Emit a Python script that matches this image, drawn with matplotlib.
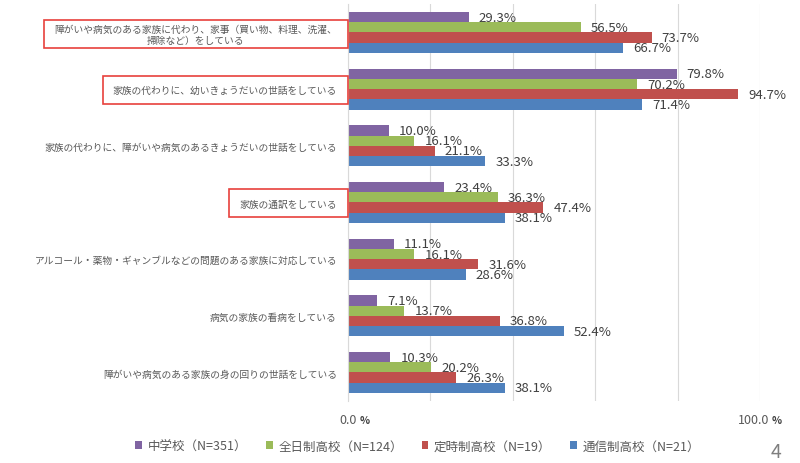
import numpy as np
import matplotlib
matplotlib.use("Agg")
import matplotlib.pyplot as plt
from matplotlib.patches import Rectangle

plt.rcParams['font.family'] = ['Noto Sans CJK JP', 'DejaVu Sans']

categories = [
    "障がいや病気のある家族に代わり、家事（買い物、料理、洗濯、\n掃除など）をしている",
    "家族の代わりに、幼いきょうだいの世話をしている",
    "家族の代わりに、障がいや病気のあるきょうだいの世話をしている",
    "家族の通訳をしている",
    "アルコール・薬物・ギャンブルなどの問題のある家族に対応している",
    "病気の家族の看病をしている",
    "障がいや病気のある家族の身の回りの世話をしている",
]
series_names = ["中学校（N=351）", "全日制高校（N=124）", "定時制高校（N=19）", "通信制高校（N=21）"]
junior_high = [29.3, 79.8, 10.0, 23.4, 11.1, 7.1, 10.3]
fulltime = [56.5, 70.2, 16.1, 36.3, 16.1, 13.7, 20.2]
parttime = [73.7, 94.7, 21.1, 47.4, 31.6, 36.8, 26.3]
correspondence = [66.7, 71.4, 33.3, 38.1, 28.6, 52.4, 38.1]
highlighted = [0, 1, 3]

colors = ['#8064A2', '#9BBB59', '#C0504D', '#4F81BD']
series = [junior_high, fulltime, parttime, correspondence]

fig = plt.figure(figsize=(8, 4.64), dpi=100)
ax = fig.add_axes([0.435, 0.134, 0.515, 0.855])

y = np.arange(len(categories))
h = 0.18
for i, (vals, c, name) in enumerate(zip(series, colors, series_names)):
    pos = y - 1.5 * h + i * h
    ax.barh(pos, vals, height=h, color=c, label=name, zorder=2)
    for p, v in zip(pos, vals):
        ax.annotate(f"{v:.1f}%", (v, p), xytext=(10, 0), textcoords='offset pixels',
                    va='center', ha='left', fontsize=9.5, color='#404040', zorder=3)

ax.set_xlim(0, 100)
ax.set_ylim(len(categories) - 0.5, -0.5)
ax.set_xticks(np.arange(0, 101, 20))
ax.set_xticklabels([])
ax.tick_params(axis='x', length=0)
ax.tick_params(axis='y', length=0, pad=8)
ax.grid(axis='x', color='#D9D9D9', linewidth=0.8, zorder=0)
for s in ['top', 'right', 'bottom']:
    ax.spines[s].set_visible(False)
ax.spines['left'].set_color('#D9D9D9')

ax.set_yticks(y)
ax.set_yticklabels(categories, fontsize=7, color='#595959', multialignment='center', linespacing=1.25)

# x axis end labels
for xv, txt in [(0, "0.0"), (100, "100.0")]:
    ax.annotate(txt, (xv, 0), xycoords=('data', 'axes fraction'), xytext=(9, -19),
                textcoords='offset pixels', ha='right', va='center', fontsize=9, color='#595959')
    ax.annotate("%", (xv, 0), xycoords=('data', 'axes fraction'), xytext=(12, -19),
                textcoords='offset pixels', ha='left', va='center', fontsize=7.5, fontweight='bold', color='#404040')

fig.legend(loc='center', bbox_to_anchor=(0.522, 0.037), ncol=4, frameon=False,
           fontsize=9, handlelength=0.55, handleheight=0.55, handletextpad=0.45,
           columnspacing=1.5, labelcolor='#595959')

fig.text(0.97, 0.024, "4", fontsize=14, color='#7F7F7F', ha='center', va='center')

# red boxes around highlighted category labels
fig.canvas.draw()
ax_left = ax.get_window_extent().x0
for i, lab in enumerate(ax.get_yticklabels()):
    if i in highlighted:
        bb = lab.get_window_extent()
        x0 = bb.x0 - 10
        hgt = max(28, bb.height + 4)
        yc = (bb.y0 + bb.y1) / 2
        rect = Rectangle((x0, yc - hgt / 2), ax_left - x0, hgt, transform=None,
                         fill=False, edgecolor='#E8413C', linewidth=1.2)
        fig.patches.append(rect)

fig.savefig("out.png", dpi=100)
